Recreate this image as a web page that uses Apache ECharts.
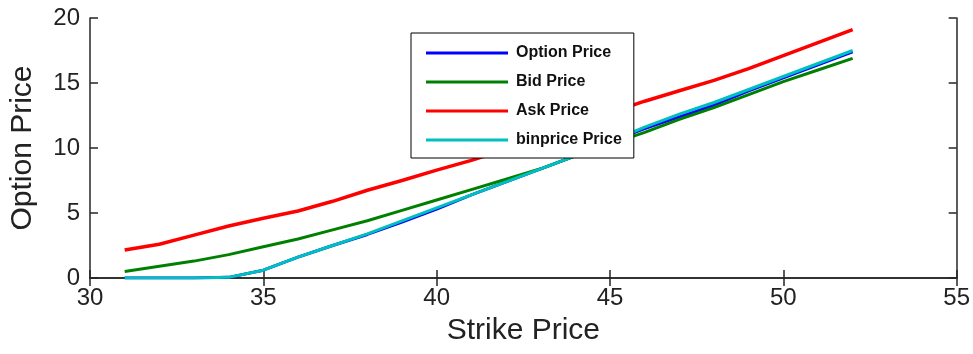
<!DOCTYPE html>
<html>
<head>
<meta charset="utf-8">
<script src="https://cdn.jsdelivr.net/npm/echarts@6/dist/echarts.min.js"></script>
<style>
  html, body { margin: 0; padding: 0; background: #fff; }
  #chart { width: 973px; height: 354px; }
</style>
</head>
<body>
<div id="chart"></div>
<script>
// strike prices (x)
var strikes = [31, 32, 33, 34, 35, 36, 37, 38, 39, 40, 41, 42, 43, 44, 45, 46, 47, 48, 49, 50, 51, 52];

// series values
var optionPrice = [0, 0, 0, 0.05, 0.6, 1.6, 2.5, 3.35, 4.3, 5.3, 6.4, 7.4, 8.4, 9.4, 10.5, 11.5, 12.4, 13.3, 14.4, 15.4, 16.4, 17.4];
var bidPrice    = [0.5, 0.9, 1.3, 1.8, 2.4, 3.0, 3.7, 4.4, 5.2, 6.0, 6.8, 7.6, 8.4, 9.4, 10.3, 11.2, 12.2, 13.1, 14.1, 15.1, 16.0, 16.9];
var askPrice    = [2.15, 2.6, 3.3, 4.0, 4.6, 5.15, 5.9, 6.75, 7.5, 8.3, 9.05, 9.9, 10.8, 11.8, 12.7, 13.6, 14.4, 15.2, 16.1, 17.1, 18.1, 19.1];
var binPrice    = [0, 0, 0, 0.05, 0.6, 1.6, 2.5, 3.4, 4.4, 5.4, 6.4, 7.4, 8.4, 9.4, 10.5, 11.6, 12.6, 13.5, 14.5, 15.5, 16.5, 17.5];

var seriesNames = ['Option Price', 'Bid Price', 'Ask Price', 'binprice Price'];
var colors = ['#0000ff', '#008000', '#ff0000', '#00bfbf'];

function pairs(vals) {
	var out = [];
	for (var i = 0; i < strikes.length; i++) {
		out.push([strikes[i], vals[i]]);
	}
	return out;
}

var axisCol = '#262626';
var font = 'Liberation Sans, Arial, sans-serif';

var chart = echarts.init(document.getElementById('chart'));

var option = {
	animation: false,
	color: colors,
	grid: { left: 90, right: 16, top: 18, bottom: 76 },
	legend: {
		orient: 'vertical',
		left: 411,
		top: 33,
		padding: [11, 12, 9, 15],
		itemGap: 11,
		itemWidth: 82,
		itemHeight: 3,
		icon: 'rect',
		backgroundColor: '#fff',
		borderColor: '#000',
		borderWidth: 1,
		textStyle: { fontFamily: font, fontSize: 16, fontWeight: 'bold', color: '#111', lineHeight: 18, padding: [0, 0, 0, 3] },
		data: seriesNames
	},
	xAxis: [{
		type: 'value',
		min: 30, max: 55, interval: 5,
		name: 'Strike Price',
		nameLocation: 'middle',
		nameGap: 38,
		nameTextStyle: { fontFamily: font, fontSize: 30, color: '#222' },
		axisLine: { lineStyle: { color: axisCol, width: 1.5 } },
		axisTick: { inside: true, length: 8, lineStyle: { color: axisCol, width: 1.5 } },
		axisLabel: { fontFamily: font, fontSize: 24, color: '#222', margin: 8 },
		splitLine: { show: false }
	}, {
		type: 'value',
		position: 'top',
		min: 30, max: 55, interval: 5,
		axisLine: { lineStyle: { color: axisCol, width: 1.5 } },
		axisTick: { inside: true, length: 8, lineStyle: { color: axisCol, width: 1.5 } },
		axisLabel: { show: false },
		splitLine: { show: false }
	}],
	yAxis: [{
		type: 'value',
		min: 0, max: 20, interval: 5,
		name: 'Option Price',
		nameLocation: 'middle',
		nameGap: 52,
		nameTextStyle: { fontFamily: font, fontSize: 30, color: '#222' },
		axisLine: { show: true, lineStyle: { color: axisCol, width: 1.5 } },
		axisTick: { show: true, inside: true, length: 8, lineStyle: { color: axisCol, width: 1.5 } },
		axisLabel: { fontFamily: font, fontSize: 24, color: '#222', margin: 10 },
		splitLine: { show: false }
	}, {
		type: 'value',
		position: 'right',
		min: 0, max: 20, interval: 5,
		axisLine: { show: true, lineStyle: { color: axisCol, width: 1.5 } },
		axisTick: { show: true, inside: true, length: 8, lineStyle: { color: axisCol, width: 1.5 } },
		axisLabel: { show: false },
		splitLine: { show: false }
	}],
	series: [
		{ name: seriesNames[0], type: 'line', data: pairs(optionPrice), showSymbol: false, lineStyle: { width: 3 } },
		{ name: seriesNames[1], type: 'line', data: pairs(bidPrice), showSymbol: false, lineStyle: { width: 3 } },
		{ name: seriesNames[2], type: 'line', data: pairs(askPrice), showSymbol: false, lineStyle: { width: 3.5 } },
		{ name: seriesNames[3], type: 'line', data: pairs(binPrice), showSymbol: false, lineStyle: { width: 3 } }
	]
};
chart.setOption(option);
</script>
</body>
</html>
